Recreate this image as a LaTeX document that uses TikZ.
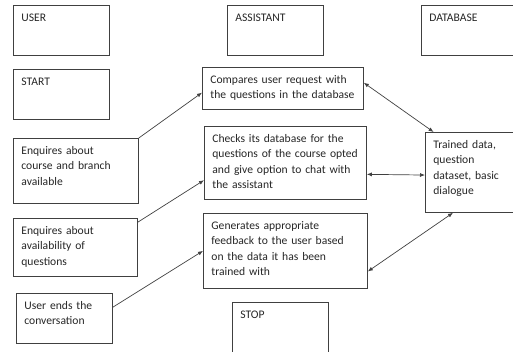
\documentclass[tikz,border=0pt]{standalone}
\usepackage{fontspec}
\setmainfont{Carlito}
\usetikzlibrary{arrows.meta}
\definecolor{edgegray}{HTML}{404040}
\begin{document}
\begin{tikzpicture}[x=1pt, y=-1pt, >={Latex[length=5pt,width=4pt]},
    every node/.style={font=\fontsize{11.6}{15.5}\selectfont, text=black!85},
    panel/.style 2 args={draw=edgegray, line width=0.8pt, anchor=north west,
      inner xsep=8pt, inner ysep=0pt, align=left, text height=16pt,
      text width=#1, text depth=#2},
    link/.style={draw=edgegray, line width=0.7pt}]
    \useasboundingbox (0,0) rectangle (513,352);
    \clip (0,0) rectangle (513,352);

    % left column
    \node[panel={80pt}{34pt}] (user) at (13,5) {USER};
    \node[panel={80pt}{34pt}] (start) at (13,69) {START};
    \node[panel={109pt}{49pt}] (course) at (13,138) {Enquires about\\course and branch\\available};
    \node[panel={108pt}{42pt}] (avail) at (13,218) {Enquires about\\availability of\\questions};
    \node[panel={80pt}{34pt}] (ends) at (16,293) {User ends the\\conversation};

    % middle column
    \node[panel={80pt}{34pt}] (assist) at (227,5) {ASSISTANT};
    \node[panel={145pt}{26pt}] (compare) at (202,67) {Compares user request with\\the questions in the database};
    \node[panel={146pt}{57pt}] (checks) at (204,126) {Checks its database for the\\questions of the course opted\\and give option to chat with\\the assistant};
    \node[panel={148pt}{59pt}] (reply) at (203,213) {Generates appropriate\\feedback to the user based\\on the data it has been\\trained with};
    \node[panel={80pt}{44pt}] (stop) at (232,302) {STOP};

    % right column
    \node[panel={84pt}{34pt}] (db) at (421,5) {DATABASE};
    \node[panel={84pt}{64pt}] (trained) at (425,132) {Trained data,\\question\\dataset, basic\\dialogue};

    \draw[link, ->] (course.north east) -- (compare.183);
    \draw[link, ->] (avail.22) -- (checks.192);
    \draw[link, ->] (ends.13) -- (reply.west);
    \draw[link, <->] (compare.4) -- (trained.136);
    \draw[link, <->] (checks.-8) -- (trained.183);
    \draw[link, <->] (trained.241) -- (reply.-14);
\end{tikzpicture}
\end{document}
